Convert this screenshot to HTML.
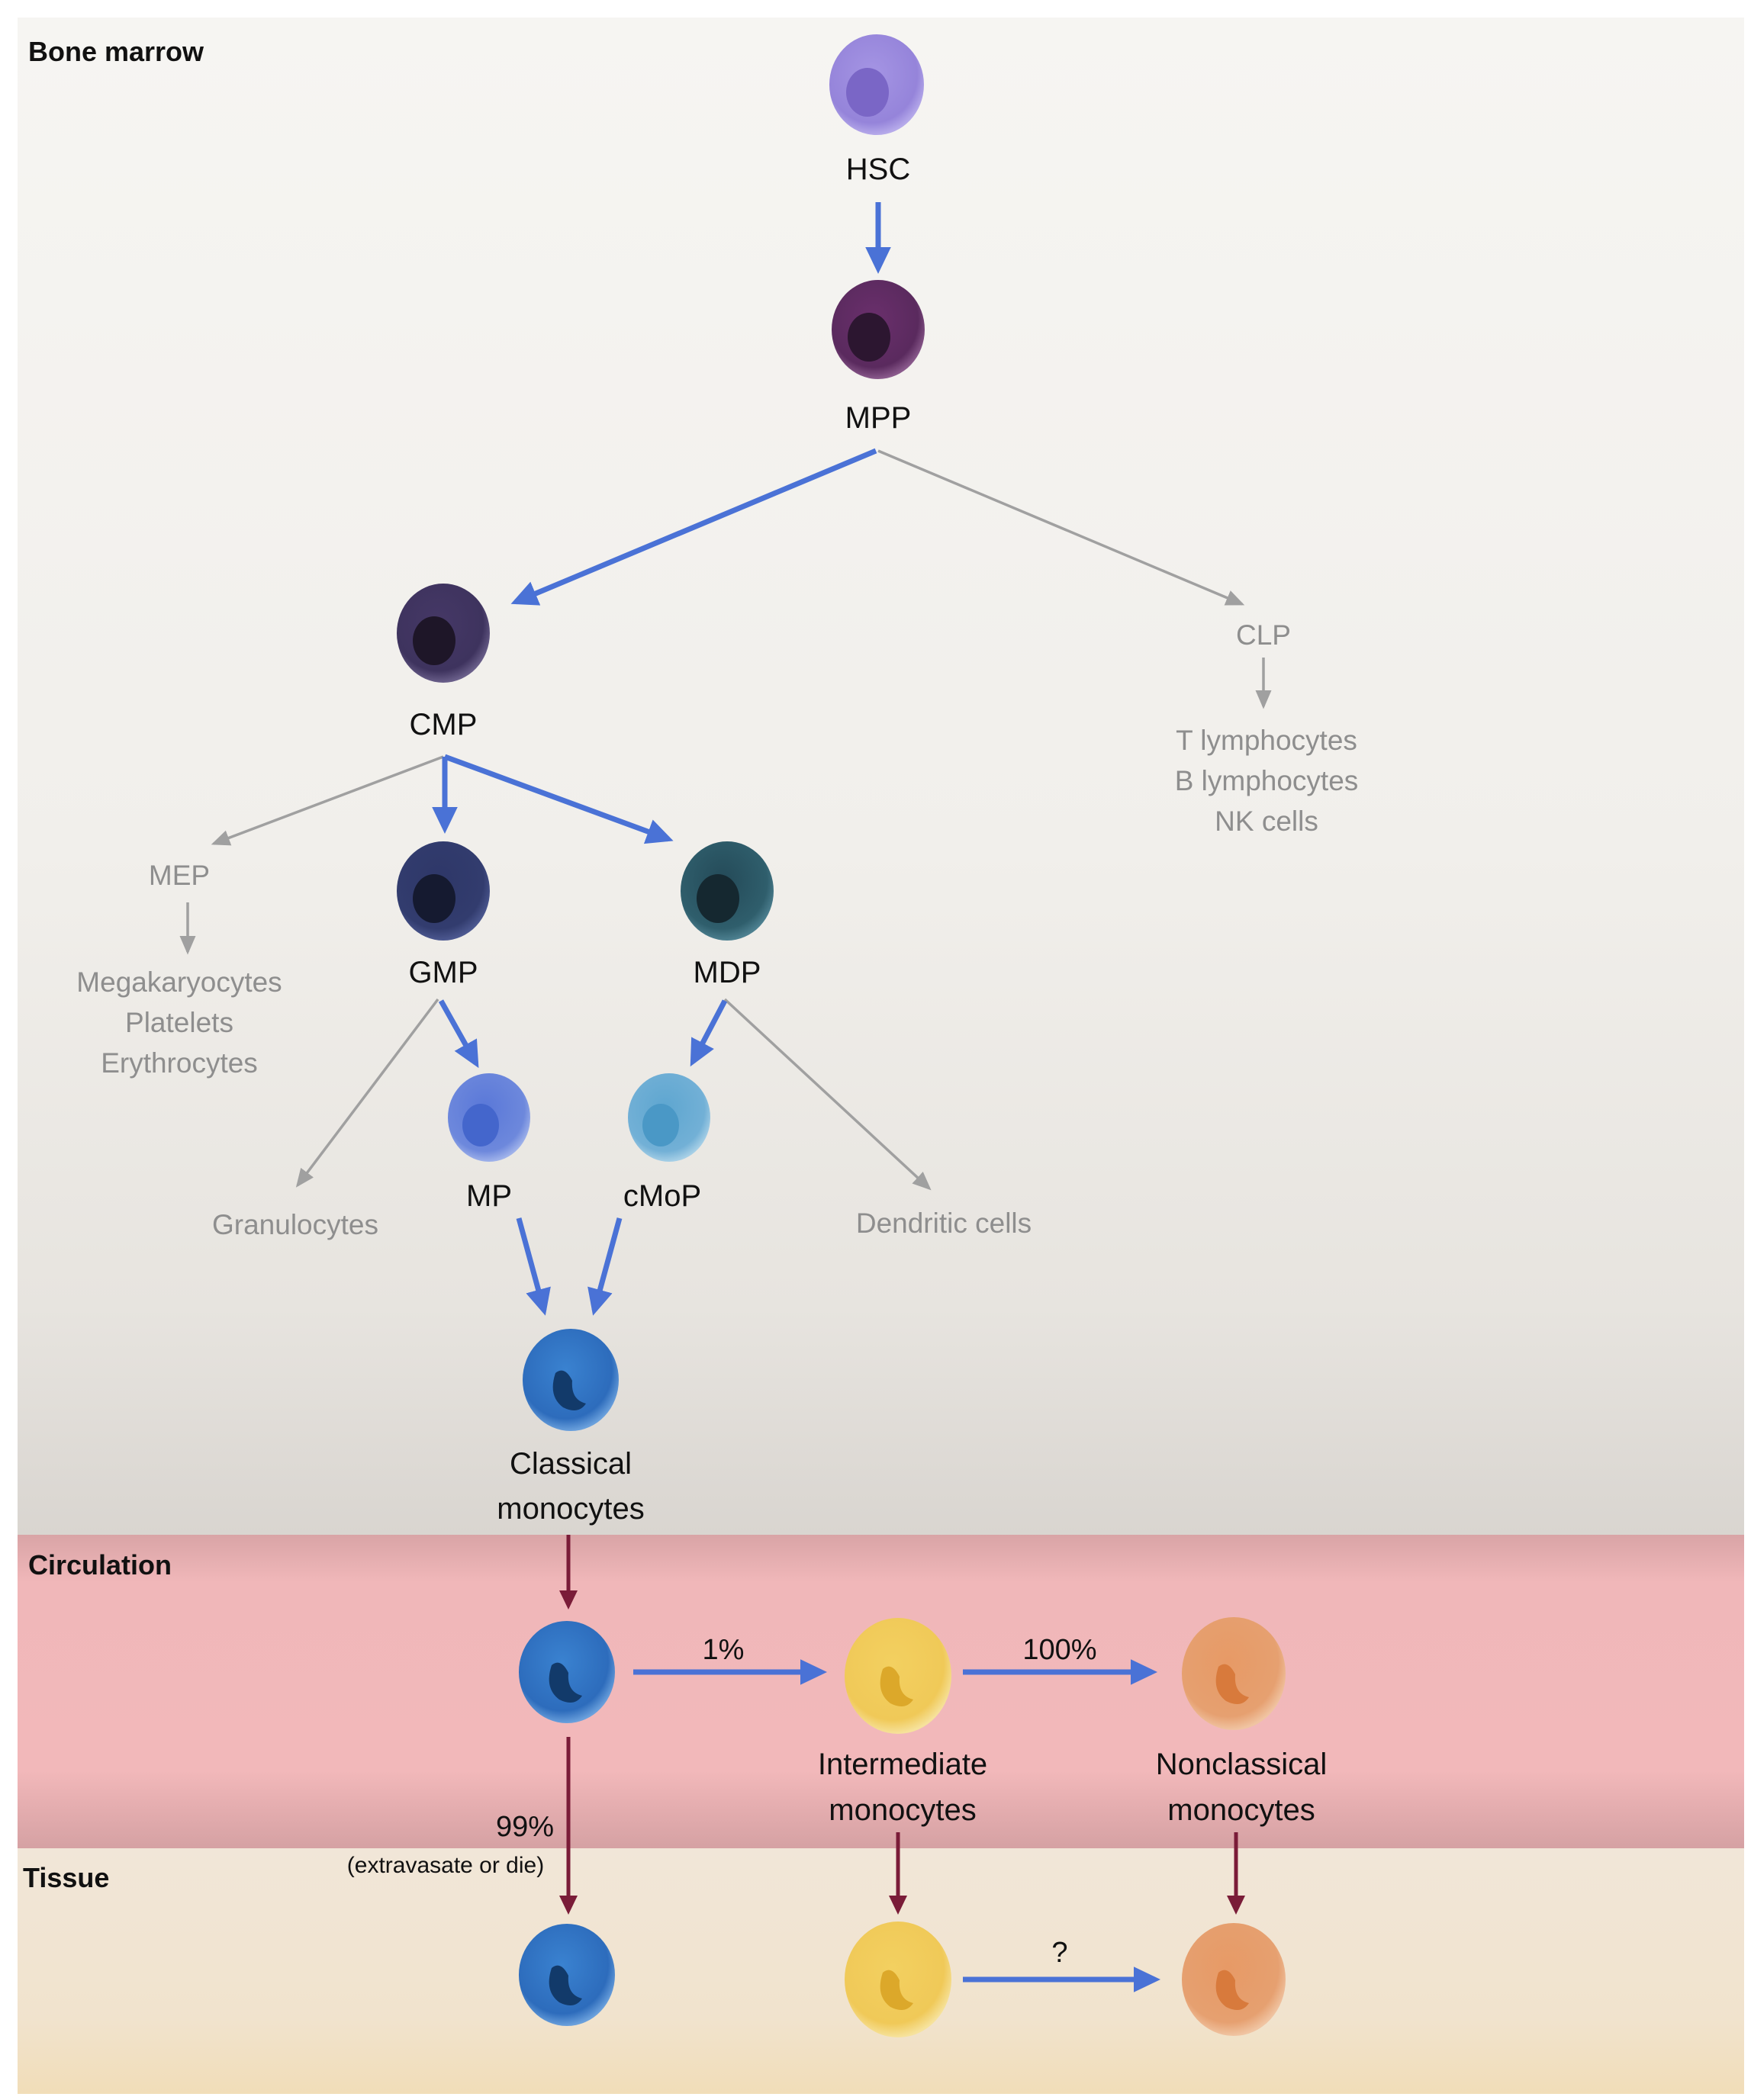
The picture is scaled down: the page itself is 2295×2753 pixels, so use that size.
<!DOCTYPE html>
<html><head><meta charset="utf-8"><style>
html,body{margin:0;padding:0;background:#fff}
svg{display:block}
text{font-family:"Liberation Sans",sans-serif}
</style></head><body>
<svg width="2295" height="2753" viewBox="0 0 2295 2753" xmlns="http://www.w3.org/2000/svg">
<defs>
<linearGradient id="bm" x1="0" y1="0" x2="0" y2="1">
<stop offset="0" stop-color="#f6f5f2"/><stop offset="0.55" stop-color="#f1efeb"/><stop offset="0.85" stop-color="#e7e4df"/><stop offset="1" stop-color="#d9d5d0"/></linearGradient>
<linearGradient id="circ" x1="0" y1="0" x2="0" y2="1">
<stop offset="0" stop-color="#d9a4a6"/><stop offset="0.15" stop-color="#f0b7b9"/><stop offset="0.75" stop-color="#f2b8ba"/><stop offset="1" stop-color="#d5a1a3"/></linearGradient>
<linearGradient id="tis" x1="0" y1="0" x2="0" y2="1">
<stop offset="0" stop-color="#f1e6d8"/><stop offset="0.7" stop-color="#f1e3cd"/><stop offset="1" stop-color="#f1ddb8"/></linearGradient>
<marker id="ab" markerWidth="6" markerHeight="6" refX="4" refY="3" orient="auto" markerUnits="strokeWidth"><path d="M0,0.6 L5,3 L0,5.4 z" fill="#4a72d6"/></marker>
<marker id="ag" markerWidth="8" markerHeight="8" refX="6" refY="4" orient="auto" markerUnits="strokeWidth"><path d="M0,1 L7,4 L0,7 z" fill="#a0a0a0"/></marker>
<marker id="ar" markerWidth="6" markerHeight="6" refX="4" refY="3" orient="auto" markerUnits="strokeWidth"><path d="M0,0.6 L5,3 L0,5.4 z" fill="#7a1c38"/></marker>
<radialGradient id="gHSC" cx="0.45" cy="0.4" r="0.6"><stop offset="0" stop-color="#a595e4"/><stop offset="0.8" stop-color="#9584da"/><stop offset="1" stop-color="#b6aaea"/></radialGradient>
<radialGradient id="gMPP" cx="0.45" cy="0.4" r="0.6"><stop offset="0" stop-color="#6a2f6c"/><stop offset="0.8" stop-color="#5a2a5e"/><stop offset="1" stop-color="#8a5a8c"/></radialGradient>
<radialGradient id="gCMP" cx="0.45" cy="0.4" r="0.6"><stop offset="0" stop-color="#453866"/><stop offset="0.8" stop-color="#3e335e"/><stop offset="1" stop-color="#6a5f8a"/></radialGradient>
<radialGradient id="gGMP" cx="0.45" cy="0.4" r="0.6"><stop offset="0" stop-color="#2e3768"/><stop offset="0.8" stop-color="#323c6e"/><stop offset="1" stop-color="#4c5890"/></radialGradient>
<radialGradient id="gMDP" cx="0.45" cy="0.4" r="0.6"><stop offset="0" stop-color="#244a58"/><stop offset="0.8" stop-color="#2f5e6c"/><stop offset="1" stop-color="#4d8090"/></radialGradient>
<radialGradient id="gMP" cx="0.45" cy="0.4" r="0.6"><stop offset="0" stop-color="#5a78d8"/><stop offset="0.8" stop-color="#6d88dc"/><stop offset="1" stop-color="#9fb2ea"/></radialGradient>
<radialGradient id="gcMoP" cx="0.45" cy="0.4" r="0.6"><stop offset="0" stop-color="#5ea6d0"/><stop offset="0.8" stop-color="#72b0d6"/><stop offset="1" stop-color="#a6cfe6"/></radialGradient>
<radialGradient id="gCl" cx="0.45" cy="0.4" r="0.6"><stop offset="0" stop-color="#3a82d0"/><stop offset="0.8" stop-color="#2d6cbc"/><stop offset="1" stop-color="#6aa0dc"/></radialGradient>
<radialGradient id="gIn" cx="0.45" cy="0.4" r="0.6"><stop offset="0" stop-color="#f3d060"/><stop offset="0.8" stop-color="#f0c958"/><stop offset="1" stop-color="#f6e29c"/></radialGradient>
<radialGradient id="gNc" cx="0.45" cy="0.4" r="0.6"><stop offset="0" stop-color="#e79a66"/><stop offset="0.8" stop-color="#e6a070"/><stop offset="1" stop-color="#f0c4a2"/></radialGradient>
</defs>
<rect x="0" y="0" width="2295" height="2753" fill="#fff"/>
<rect x="23" y="23" width="2263" height="1990" fill="url(#bm)"/>
<rect x="23" y="2012" width="2263" height="412" fill="url(#circ)"/>
<rect x="23" y="2423" width="2263" height="322" fill="url(#tis)"/>

<g font-weight="bold" font-size="36" fill="#111">
<text x="37" y="80">Bone marrow</text>
<text x="37" y="2064">Circulation</text>
<text x="30" y="2474">Tissue</text>
</g>

<!-- cells -->
<g>
<ellipse cx="1149" cy="111" rx="62" ry="66" fill="url(#gHSC)"/><ellipse cx="1137" cy="121" rx="28" ry="32" fill="#7a66c6"/>
<ellipse cx="1151" cy="432" rx="61" ry="65" fill="url(#gMPP)"/><ellipse cx="1139" cy="442" rx="28" ry="32" fill="#2c1630"/>
<ellipse cx="581" cy="830" rx="61" ry="65" fill="url(#gCMP)"/><ellipse cx="569" cy="840" rx="28" ry="32" fill="#1e1628"/>
<ellipse cx="581" cy="1168" rx="61" ry="65" fill="url(#gGMP)"/><ellipse cx="569" cy="1178" rx="28" ry="32" fill="#151a30"/>
<ellipse cx="953" cy="1168" rx="61" ry="65" fill="url(#gMDP)"/><ellipse cx="941" cy="1178" rx="28" ry="32" fill="#152830"/>
<ellipse cx="641" cy="1465" rx="54" ry="58" fill="url(#gMP)"/><ellipse cx="630" cy="1475" rx="24" ry="28" fill="#4466cc"/>
<ellipse cx="877" cy="1465" rx="54" ry="58" fill="url(#gcMoP)"/><ellipse cx="866" cy="1475" rx="24" ry="28" fill="#4a98c6"/>
</g>
<g>
<ellipse cx="748" cy="1809" rx="63" ry="67" fill="url(#gCl)"/><path d="M728,1800 q-10,30 10,45 q20,10 30,-5 q-20,-5 -18,-30 q-10,-20 -22,-10z" fill="#123a6a"/>
<ellipse cx="743" cy="2192" rx="63" ry="67" fill="url(#gCl)"/><path d="M723,2183 q-10,30 10,45 q20,10 30,-5 q-20,-5 -18,-30 q-10,-20 -22,-10z" fill="#123a6a"/>
<ellipse cx="743" cy="2589" rx="63" ry="67" fill="url(#gCl)"/><path d="M723,2580 q-10,30 10,45 q20,10 30,-5 q-20,-5 -18,-30 q-10,-20 -22,-10z" fill="#123a6a"/>
<ellipse cx="1177" cy="2197" rx="70" ry="76" fill="url(#gIn)"/><path d="M1157,2188 q-10,30 10,45 q20,10 30,-5 q-20,-5 -18,-30 q-10,-20 -22,-10z" fill="#dca82a"/>
<ellipse cx="1177" cy="2595" rx="70" ry="76" fill="url(#gIn)"/><path d="M1157,2586 q-10,30 10,45 q20,10 30,-5 q-20,-5 -18,-30 q-10,-20 -22,-10z" fill="#dca82a"/>
<ellipse cx="1617" cy="2194" rx="68" ry="74" fill="url(#gNc)"/><path d="M1597,2185 q-10,30 10,45 q20,10 30,-5 q-20,-5 -18,-30 q-10,-20 -22,-10z" fill="#d87a3c"/>
<ellipse cx="1617" cy="2595" rx="68" ry="74" fill="url(#gNc)"/><path d="M1597,2586 q-10,30 10,45 q20,10 30,-5 q-20,-5 -18,-30 q-10,-20 -22,-10z" fill="#d87a3c"/>
</g>

<!-- black labels -->
<g font-size="40" fill="#111" text-anchor="middle">
<text x="1151" y="235">HSC</text>
<text x="1151" y="561">MPP</text>
<text x="581" y="963">CMP</text>
<text x="581" y="1288">GMP</text>
<text x="953" y="1288">MDP</text>
<text x="641" y="1581">MP</text>
<text x="868" y="1581">cMoP</text>
<text x="748" y="1932">Classical</text>
<text x="748" y="1991">monocytes</text>
<text x="1183" y="2326">Intermediate</text>
<text x="1183" y="2386">monocytes</text>
<text x="1627" y="2326">Nonclassical</text>
<text x="1627" y="2386">monocytes</text>
<text x="948" y="2175" font-size="38">1%</text>
<text x="1389" y="2175" font-size="38">100%</text>
<text x="1389" y="2572" font-size="38">?</text>
<text x="688" y="2407" font-size="38">99%</text>
<text x="584" y="2455" font-size="30">(extravasate or die)</text>
</g>
<!-- gray labels -->
<g font-size="37" fill="#8e8e8e" text-anchor="middle">
<text x="1656" y="845">CLP</text>
<text x="1660" y="983">T lymphocytes</text>
<text x="1660" y="1036">B lymphocytes</text>
<text x="1660" y="1089">NK cells</text>
<text x="235" y="1160">MEP</text>
<text x="235" y="1300">Megakaryocytes</text>
<text x="235" y="1353">Platelets</text>
<text x="235" y="1406">Erythrocytes</text>
<text x="387" y="1618">Granulocytes</text>
<text x="1237" y="1616">Dendritic cells</text>
</g>

<!-- gray connectors -->
<g stroke="#a0a0a0" stroke-width="3.5" fill="none" marker-end="url(#ag)">
<line x1="1151" y1="591" x2="1628" y2="792"/>
<line x1="1656" y1="862" x2="1656" y2="926"/>
<line x1="581" y1="992" x2="280" y2="1106"/>
<line x1="246" y1="1183" x2="246" y2="1248"/>
<line x1="574" y1="1310" x2="390" y2="1554"/>
<line x1="950" y1="1310" x2="1218" y2="1558"/>
</g>
<!-- blue connectors -->
<g stroke="#4a72d6" stroke-width="7" fill="none" marker-end="url(#ab)">
<line x1="1151" y1="265" x2="1151" y2="352"/>
<line x1="1148" y1="591" x2="676" y2="789"/>
<line x1="583" y1="992" x2="583" y2="1086"/>
<line x1="583" y1="992" x2="876" y2="1100"/>
<line x1="578" y1="1312" x2="624" y2="1394"/>
<line x1="950" y1="1312" x2="908" y2="1392"/>
<line x1="680" y1="1597" x2="713" y2="1718"/>
<line x1="812" y1="1597" x2="779" y2="1718"/>
<line x1="830" y1="2192" x2="1077" y2="2192"/>
<line x1="1262" y1="2192" x2="1510" y2="2192"/>
<line x1="1262" y1="2595" x2="1514" y2="2595"/>
</g>
<!-- dark red connectors -->
<g stroke="#7a1c38" stroke-width="5" fill="none" marker-end="url(#ar)">
<line x1="745" y1="2012" x2="745" y2="2105"/>
<line x1="745" y1="2277" x2="745" y2="2505"/>
<line x1="1177" y1="2402" x2="1177" y2="2505"/>
<line x1="1620" y1="2402" x2="1620" y2="2505"/>
</g>
</svg>
</body></html>
